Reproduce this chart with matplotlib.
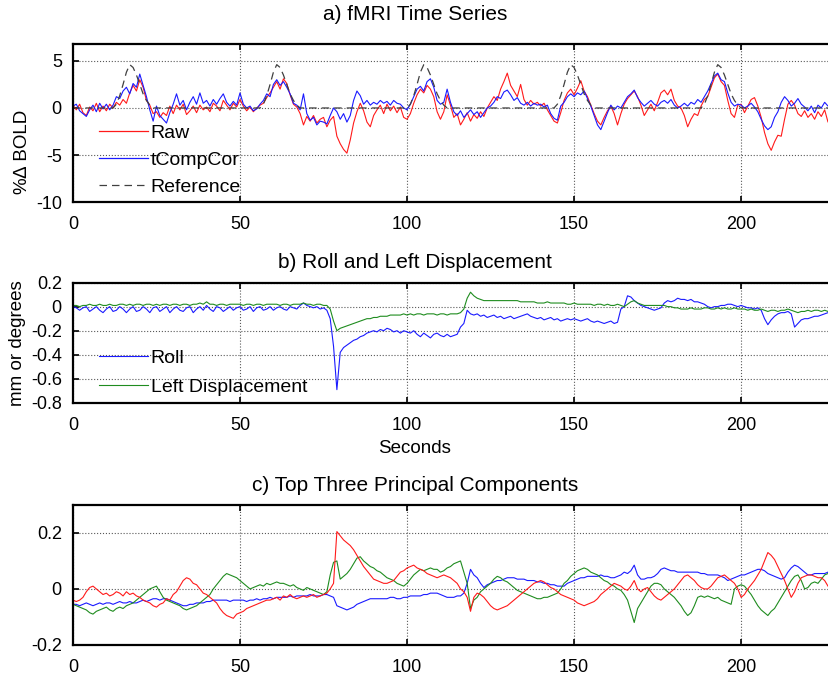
import numpy as np
import matplotlib
matplotlib.use("Agg")
import matplotlib.pyplot as plt

plt.rcParams['font.family'] = ['Liberation Sans', 'DejaVu Sans']

# sample times (s)
t_sec = np.arange(0, 228)

# a) fMRI time series (% change BOLD)
raw = [0.3, -0.2, 0.4, -0.5, -0.8, 0.1, -0.3, 0.5, -0.4, 0.2,
       -0.3, 0.4, 0.0, 0.6, 0.3, 0.9, 0.5, 1.6, 2.4, 1.8,
       3.0, 2.2, 0.8, 0.3, -0.6, -0.4, -1.0, -0.5, -0.8, 0.2,
       -0.6, 0.3, -0.2, 0.4, -0.7, -0.3, 0.2, -0.5, 0.3, -0.2,
       0.1, -0.4, 0.5, 0.2, -0.3, 0.8, 0.3, -0.2, 0.5, 0.1,
       0.9, 0.2, -0.3, 0.1, -0.4, 0.0, 0.3, 0.5, 1.1, 1.6,
       2.2, 2.8, 2.0, 3.1, 2.6, 1.4, 0.4, 0.1, -0.6, -1.8,
       -0.9, -1.4, -0.8, -1.6, -1.2, -1.0, -2.0, -1.3, -0.9, -3.0,
       -3.8, -4.4, -4.8, -3.4, -1.6, -0.4, 0.5, -0.3, -1.5, -2.0,
       -0.8, -0.2, 0.3, -0.6, 0.4, -0.3, 0.2, -0.5, 0.1, -1.0,
       -1.2, -0.6, 0.5, 1.4, 2.0, 1.6, 2.4, 2.0, 1.2, -0.4,
       -1.2, -0.4, 1.4, 0.3, -1.0, -0.6, -1.8, -1.2, -0.5, -1.4,
       -0.7, -1.1, -0.4, -0.9, 0.0, 0.6, 1.2, 0.8, 2.0, 2.8,
       3.7, 2.4, 1.8, 1.2, 2.5, 0.9, 0.3, 0.8, 0.4, 0.6,
       0.2, 0.5, -0.2, -0.8, -1.4, -1.6, -0.5, 0.8, 1.6, 2.0,
       1.4, 2.1, 2.9, 1.8, 1.2, 0.3, -0.6, -1.4, -1.8, -1.0,
       -0.3, 0.2, -0.6, -1.8, -0.6, 0.4, 1.0, 1.4, 1.8, 1.2,
       0.3, -0.8, -0.2, 0.4, -0.3, 0.6, 1.6, 1.9, 1.4, 2.0,
       0.8, 0.2, 0.0, -0.8, -2.0, -1.2, -0.6, -0.8, 0.2, 0.9,
       1.2, 2.2, 3.2, 3.6, 2.8, 2.4, 0.8, -0.6, -1.0, 0.3,
       0.4, -0.5, 0.2, 0.9, 1.1, 0.2, -1.0, -2.6, -3.8, -4.5,
       -3.6, -2.9, -3.0, -1.2, 0.4, 0.8, 0.3, -0.6, -0.9, -0.3,
       -1.0, -0.6, -1.2, -0.4, -0.9, -0.2, -1.5, -0.8]

tcompcor = [0.2, 0.4, -0.3, -0.6, -0.9, -0.2, 0.3, -0.4, 0.5, -0.1,
            0.4, -0.2, 0.3, 1.2, 1.0, 1.8, 2.2, 1.5, 2.6, 2.2,
            3.6, 2.4, 1.2, -0.2, -1.4, 0.2, -0.8, -1.2, -1.6, -0.5,
            0.4, 1.5, 0.3, 0.8, -0.2, 0.6, 1.2, 0.4, 1.6, 0.5,
            0.8, 0.2, 0.9, 0.4, 1.0, 1.5, 0.6, 0.2, 0.7, 0.3,
            1.6, 0.4, 0.0, 0.2, -0.3, -0.1, 0.4, 0.8, 1.5, 1.2,
            2.5, 3.0, 2.4, 2.8, 2.2, 1.5, 0.5, 0.3, -0.2, 1.5,
            -0.6, -1.3, -1.0, -1.8, -1.4, -1.5, -1.7, -0.8, 0.0, -0.4,
            -1.2, -0.6, -1.5, -0.8, 0.8, 1.8, 1.3, 0.4, 0.8, 0.3,
            0.6, 0.4, 0.8, 0.5, 0.7, 0.3, 0.8, 0.5, 0.4, 0.0,
            -0.2, 0.4, 1.2, 2.0, 2.3, 1.8, 2.8, 3.1, 2.2, 0.8,
            0.4, 0.6, 2.0, 0.6, -0.4, -0.8, -0.3, -1.0, -0.6, -0.2,
            -0.7, -0.4, -1.0, -0.5, 0.0, 0.2, 0.6, 1.2, 1.0, 1.7,
            1.9, 1.4, 0.8, 1.1, 0.5, 0.3, 0.6, 0.2, 0.5, 0.3,
            0.4, 0.1, 0.3, -0.6, -1.1, -1.3, 0.2, 0.6, 1.2, 1.5,
            1.2, 1.6, 1.4, 1.8, 1.0, 0.2, -0.8, -1.8, -2.3, -1.4,
            -0.5, 0.3, -0.2, 0.2, 0.0, 0.6, 1.2, 1.5, 1.9, 1.1,
            0.6, 0.2, 0.5, 0.8, 0.4, 0.2, 0.6, 0.8, 0.5, 0.9,
            0.3, 0.0, 0.2, 0.5, 0.2, 0.6, 0.4, 0.9, 0.6, 1.2,
            1.8, 2.6, 3.4, 3.7, 3.0, 2.8, 1.6, 0.6, 0.2, 0.4,
            0.3, 0.0, 0.2, 0.5, 0.1, -0.4, -1.2, -1.9, -2.3, -2.0,
            -1.0, -0.4, 0.6, 1.2, 0.8, 0.2, 0.5, 1.0, 0.4, 0.1,
            -0.3, 0.2, -0.5, 0.3, 0.0, 0.6, 0.2, 0.4]

ref_t = [0, 12, 13, 14, 15, 16, 17, 18, 19, 20, 21, 22, 23, 24,
         56, 57, 58, 59, 60, 61, 62, 63, 64, 65, 66, 67, 68,
         100, 101, 102, 103, 104, 105, 106, 107, 108, 109, 110, 111, 112,
         144, 145, 146, 147, 148, 149, 150, 151, 152, 153, 154, 155, 156,
         188, 189, 190, 191, 192, 193, 194, 195, 196, 197, 198, 199, 200, 227]
ref_v = [0, 0, 0.4, 1.3, 2.5, 3.8, 4.6, 4.3, 3.5, 2.5, 1.5, 0.8, 0.3, 0,
         0, 0.4, 1.3, 2.5, 3.8, 4.6, 4.3, 3.5, 2.5, 1.5, 0.8, 0.3, 0,
         0, 0.4, 1.3, 2.5, 3.8, 4.6, 4.3, 3.5, 2.5, 1.5, 0.8, 0.3, 0,
         0, 0.4, 1.3, 2.5, 3.8, 4.6, 4.3, 3.5, 2.5, 1.5, 0.8, 0.3, 0,
         0, 0.4, 1.3, 2.5, 3.8, 4.6, 4.3, 3.5, 2.5, 1.5, 0.8, 0.3, 0, 0]

# b) motion parameters
roll = [0.00, -0.01, -0.03, -0.01, 0.00, -0.04, -0.02, 0.00, -0.03, -0.05,
        -0.02, 0.00, -0.04, -0.03, 0.00, -0.02, -0.05, -0.02, 0.00, -0.04,
        -0.03, 0.00, -0.02, -0.05, -0.01, 0.00, -0.04, -0.02, 0.00, -0.05,
        -0.02, 0.00, -0.03, -0.04, -0.01, 0.00, -0.05, -0.02, 0.00, -0.03,
        0.01, -0.02, -0.04, 0.00, -0.01, -0.04, -0.02, 0.00, -0.03, -0.01,
        0.00, -0.03, -0.02, 0.00, -0.04, -0.01, 0.00, -0.03, -0.02, 0.00,
        -0.03, -0.01, 0.00, -0.02, -0.03, 0.00, -0.01, -0.02, 0.01, 0.03,
        0.01, 0.00, -0.01, 0.00, -0.02, -0.01, -0.03, -0.10, -0.33, -0.69,
        -0.38, -0.34, -0.32, -0.30, -0.28, -0.27, -0.25, -0.24, -0.22, -0.21,
        -0.20, -0.21, -0.19, -0.20, -0.18, -0.19, -0.21, -0.20, -0.22, -0.20,
        -0.21, -0.22, -0.20, -0.23, -0.25, -0.22, -0.24, -0.26, -0.23, -0.22,
        -0.24, -0.25, -0.23, -0.25, -0.24, -0.23, -0.17, -0.14, -0.03, -0.06,
        -0.07, -0.06, -0.08, -0.07, -0.09, -0.08, -0.07, -0.09, -0.08, -0.10,
        -0.09, -0.08, -0.10, -0.09, -0.08, -0.07, -0.06, -0.08, -0.09, -0.10,
        -0.09, -0.11, -0.10, -0.09, -0.11, -0.10, -0.12, -0.11, -0.10, -0.11,
        -0.10, -0.11, -0.12, -0.11, -0.10, -0.12, -0.13, -0.12, -0.13, -0.14,
        -0.13, -0.12, -0.14, -0.13, -0.02, 0.00, 0.09, 0.08, 0.05, 0.03,
        0.01, 0.00, -0.01, -0.02, -0.03, -0.02, -0.01, 0.03, 0.05, 0.04,
        0.05, 0.07, 0.06, 0.06, 0.05, 0.06, 0.04, 0.04, 0.03, 0.02,
        0.00, -0.01, 0.00, 0.00, 0.01, 0.01, 0.02, 0.02, 0.01, 0.00,
        0.01, 0.00, -0.01, -0.01, -0.02, -0.01, -0.03, -0.10, -0.15, -0.11,
        -0.08, -0.06, -0.05, -0.05, -0.04, -0.06, -0.17, -0.14, -0.11, -0.10,
        -0.10, -0.09, -0.08, -0.08, -0.07, -0.06, -0.05, -0.05]

left_disp = [0.01, 0.01, 0.00, 0.01, 0.01, 0.02, 0.01, 0.01, 0.02, 0.01,
             0.01, 0.02, 0.01, 0.01, 0.02, 0.02, 0.01, 0.02, 0.01, 0.02,
             0.02, 0.01, 0.02, 0.02, 0.01, 0.02, 0.01, 0.02, 0.02, 0.01,
             0.02, 0.02, 0.01, 0.02, 0.02, 0.01, 0.02, 0.02, 0.03, 0.02,
             0.04, 0.02, 0.02, 0.01, 0.02, 0.02, 0.01, 0.02, 0.02, 0.02,
             0.02, 0.01, 0.02, 0.02, 0.01, 0.02, 0.02, 0.01, 0.02, 0.02,
             0.02, 0.02, 0.01, 0.02, 0.02, 0.01, 0.02, 0.02, 0.02, 0.03,
             0.02, 0.02, 0.01, 0.02, 0.02, 0.01, 0.01, -0.02, -0.12, -0.20,
             -0.18, -0.17, -0.16, -0.15, -0.14, -0.13, -0.12, -0.11, -0.10, -0.10,
             -0.09, -0.09, -0.08, -0.08, -0.08, -0.07, -0.07, -0.07, -0.07, -0.06,
             -0.07, -0.06, -0.07, -0.06, -0.06, -0.07, -0.06, -0.06, -0.06, -0.07,
             -0.06, -0.06, -0.07, -0.06, -0.06, -0.06, -0.05, -0.02, 0.07, 0.12,
             0.09, 0.07, 0.06, 0.05, 0.05, 0.05, 0.05, 0.05, 0.05, 0.05,
             0.05, 0.05, 0.05, 0.05, 0.04, 0.04, 0.04, 0.04, 0.04, 0.03,
             0.03, 0.03, 0.04, 0.03, 0.03, 0.03, 0.03, 0.03, 0.02, 0.02,
             0.03, 0.02, 0.02, 0.02, 0.02, 0.02, 0.01, 0.02, 0.02, 0.01,
             0.02, 0.01, 0.01, 0.02, 0.01, 0.00, 0.02, 0.04, 0.05, 0.03,
             0.02, 0.01, 0.01, 0.01, 0.01, 0.01, 0.01, 0.01, 0.00, 0.00,
             -0.01, -0.01, -0.02, -0.02, -0.02, -0.01, -0.02, -0.02, -0.02, -0.01,
             -0.01, -0.02, -0.02, -0.01, -0.02, -0.01, -0.02, -0.02, -0.01, -0.02,
             -0.02, -0.02, -0.03, -0.02, -0.03, -0.03, -0.02, -0.03, -0.04, -0.03,
             -0.03, -0.04, -0.03, -0.03, -0.02, -0.03, -0.04, -0.05, -0.04, -0.04,
             -0.03, -0.04, -0.03, -0.03, -0.04, -0.03, -0.04, -0.03]

# c) top three principal components
pc1 = [-0.04, -0.045, -0.04, -0.03, -0.01, 0.005, 0.01, 0.0, -0.01, -0.02,
       -0.015, -0.025, -0.02, -0.01, -0.015, -0.025, -0.01, -0.02, -0.015, -0.025,
       -0.03, -0.04, -0.045, -0.05, -0.06, -0.065, -0.055, -0.05, -0.035, -0.04,
       -0.02, -0.01, 0.01, 0.03, 0.04, 0.035, 0.02, 0.015, 0.0, -0.015,
       -0.02, -0.03, -0.04, -0.05, -0.07, -0.085, -0.095, -0.1, -0.105, -0.09,
       -0.085, -0.08, -0.07, -0.065, -0.06, -0.055, -0.05, -0.045, -0.04, -0.04,
       -0.035, -0.03, -0.04, -0.025, -0.03, -0.02, -0.03, -0.035, -0.03, -0.025,
       -0.03, -0.025, -0.02, -0.03, -0.025, -0.02, -0.015, 0.0, 0.02, 0.205,
       0.19, 0.175, 0.165, 0.155, 0.14, 0.12, 0.1, 0.08, 0.065, 0.05,
       0.035, 0.03, 0.025, 0.02, 0.02, 0.025, 0.03, 0.045, 0.06, 0.065,
       0.075, 0.08, 0.085, 0.075, 0.07, 0.065, 0.055, 0.05, 0.045, 0.04,
       0.045, 0.05, 0.045, 0.04, 0.03, 0.02, 0.0, -0.01, -0.03, -0.08,
       -0.03, -0.015, -0.02, -0.03, -0.045, -0.06, -0.07, -0.075, -0.07, -0.065,
       -0.06, -0.05, -0.04, -0.03, -0.02, -0.01, 0.0, 0.01, 0.02, 0.025,
       0.03, 0.025, 0.015, 0.005, 0.0, -0.01, -0.02, -0.025, -0.03, -0.035,
       -0.04, -0.05, -0.055, -0.06, -0.055, -0.05, -0.045, -0.035, -0.02, -0.01,
       0.0, 0.01, 0.02, 0.015, 0.01, 0.0, -0.005, 0.01, 0.03, 0.0,
       -0.01, 0.0, 0.005, -0.01, -0.025, -0.035, -0.04, -0.03, -0.02, -0.01,
       0.0, 0.015, 0.03, 0.045, 0.05, 0.04, 0.03, 0.015, 0.005, 0.0,
       0.0, 0.01, 0.025, 0.04, 0.045, 0.05, 0.04, 0.03, 0.02, 0.0,
       -0.03, -0.02, 0.0, 0.015, 0.03, 0.05, 0.07, 0.1, 0.13, 0.12,
       0.105, 0.08, 0.055, 0.03, 0.0, -0.03, -0.01, 0.02, 0.04, 0.045,
       0.05, 0.05, 0.045, 0.04, 0.04, 0.03, 0.01, -0.005]

pc2 = [-0.055, -0.06, -0.065, -0.07, -0.075, -0.085, -0.09, -0.08, -0.075, -0.07,
       -0.065, -0.075, -0.08, -0.07, -0.065, -0.07, -0.06, -0.055, -0.05, -0.04,
       -0.03, -0.02, -0.01, 0.0, 0.005, 0.01, -0.01, -0.03, -0.04, -0.045,
       -0.05, -0.055, -0.06, -0.07, -0.075, -0.07, -0.065, -0.06, -0.05, -0.04,
       -0.03, -0.02, 0.0, 0.015, 0.03, 0.045, 0.055, 0.05, 0.045, 0.04,
       0.03, 0.02, 0.01, 0.0, 0.005, 0.01, 0.015, 0.01, 0.02, 0.015,
       0.02, 0.025, 0.02, 0.02, 0.015, 0.01, 0.015, 0.005, 0.0, -0.005,
       0.005, 0.0, -0.005, -0.01, -0.015, -0.02, -0.01, 0.05, 0.095, 0.1,
       0.035, 0.045, 0.055, 0.07, 0.09, 0.11, 0.115, 0.1, 0.09, 0.08,
       0.075, 0.065, 0.06, 0.05, 0.04, 0.035, 0.03, 0.02, 0.015, 0.01,
       0.02, 0.035, 0.05, 0.06, 0.07, 0.065, 0.07, 0.075, 0.07, 0.07,
       0.06, 0.065, 0.075, 0.08, 0.09, 0.095, 0.1, 0.06, 0.02, -0.07,
       -0.04, -0.03, -0.01, 0.0, 0.01, 0.02, 0.035, 0.045, 0.04, 0.03,
       0.025, 0.015, 0.005, -0.005, -0.01, -0.015, -0.02, -0.025, -0.03, -0.035,
       -0.035, -0.03, -0.03, -0.025, -0.02, -0.015, 0.0, 0.02, 0.03, 0.045,
       0.055, 0.065, 0.07, 0.075, 0.07, 0.06, 0.055, 0.05, 0.04, 0.03,
       0.025, 0.015, 0.01, 0.0, -0.005, -0.02, -0.04, -0.08, -0.12, -0.07,
       -0.05, -0.03, -0.01, 0.01, 0.02, 0.02, 0.015, 0.0, -0.01, -0.02,
       -0.03, -0.045, -0.06, -0.08, -0.095, -0.085, -0.06, -0.03, -0.025, -0.03,
       -0.025, -0.03, -0.035, -0.03, -0.04, -0.045, -0.05, -0.055, 0.0, 0.01,
       0.015, 0.01, -0.005, -0.02, -0.04, -0.06, -0.075, -0.085, -0.095, -0.08,
       -0.07, -0.05, -0.03, -0.01, 0.01, 0.03, 0.045, 0.05, 0.03, 0.0,
       0.005, 0.02, 0.025, 0.02, 0.035, 0.05, 0.055, 0.05]

pc3 = [-0.055, -0.055, -0.06, -0.055, -0.05, -0.055, -0.06, -0.055, -0.05, -0.055,
       -0.05, -0.05, -0.055, -0.05, -0.045, -0.05, -0.05, -0.045, -0.05, -0.05,
       -0.045, -0.04, -0.045, -0.04, -0.035, -0.035, -0.04, -0.035, -0.035, -0.04,
       -0.045, -0.05, -0.055, -0.06, -0.06, -0.055, -0.055, -0.05, -0.05, -0.05,
       -0.045, -0.045, -0.04, -0.04, -0.04, -0.04, -0.04, -0.045, -0.04, -0.04,
       -0.04, -0.04, -0.045, -0.04, -0.04, -0.035, -0.04, -0.035, -0.035, -0.03,
       -0.035, -0.03, -0.03, -0.03, -0.03, -0.025, -0.03, -0.025, -0.025, -0.025,
       -0.025, -0.02, -0.025, -0.025, -0.025, -0.02, -0.02, -0.025, -0.03, -0.06,
       -0.065, -0.07, -0.075, -0.07, -0.065, -0.055, -0.05, -0.045, -0.04, -0.035,
       -0.035, -0.035, -0.035, -0.035, -0.035, -0.03, -0.03, -0.035, -0.035, -0.03,
       -0.03, -0.025, -0.025, -0.025, -0.025, -0.02, -0.02, -0.015, -0.015, -0.015,
       -0.02, -0.025, -0.03, -0.03, -0.03, -0.025, -0.025, -0.015, 0.02, 0.07,
       0.05, 0.04, 0.02, 0.005, 0.015, 0.02, 0.025, 0.03, 0.03, 0.035,
       0.04, 0.04, 0.04, 0.035, 0.035, 0.035, 0.03, 0.03, 0.03, 0.025,
       0.025, 0.02, 0.02, 0.015, 0.015, 0.01, 0.01, 0.01, 0.02, 0.025,
       0.03, 0.035, 0.04, 0.04, 0.045, 0.045, 0.045, 0.045, 0.05, 0.045,
       0.045, 0.04, 0.04, 0.045, 0.05, 0.06, 0.055, 0.065, 0.085, 0.05,
       0.035, 0.035, 0.04, 0.04, 0.045, 0.055, 0.07, 0.075, 0.07, 0.065,
       0.065, 0.06, 0.06, 0.06, 0.06, 0.06, 0.06, 0.06, 0.055, 0.055,
       0.05, 0.05, 0.05, 0.05, 0.045, 0.04, 0.03, 0.035, 0.04, 0.045,
       0.05, 0.05, 0.055, 0.06, 0.065, 0.07, 0.07, 0.065, 0.055, 0.05,
       0.045, 0.04, 0.035, 0.04, 0.06, 0.075, 0.085, 0.08, 0.07, 0.06,
       0.05, 0.05, 0.055, 0.055, 0.055, 0.055, 0.06, 0.06]

for s in (raw, tcompcor, roll, left_disp, pc1, pc2, pc3):
    assert len(s) == len(t_sec), len(s)

RED = '#ff1a1a'; BLUE = '#1a1aff'; GREEN = '#1f8c1f'
XMAX = 226.3
FS_TICK = 13
FS_LEG = 14
FS_LAB = 13.5
FS_TITLE = 15

fig = plt.figure(figsize=(8.29, 6.76), dpi=100)
ax_a = fig.add_axes([0.088, 0.701, 0.912, 0.234])
ax_b = fig.add_axes([0.088, 0.404, 0.912, 0.178])
ax_c = fig.add_axes([0.088, 0.046, 0.912, 0.207])

def style(ax, yticks, ylim):
    ax.set_xlim(0, XMAX); ax.set_ylim(*ylim)
    ax.set_xticks([0, 50, 100, 150, 200]); ax.set_yticks(yticks)
    ax.grid(True, linestyle=':', color='0.35', linewidth=0.8)
    ax.tick_params(direction='in', top=True, labelsize=FS_TICK, length=4, width=1.2)
    ax.tick_params(axis='x', pad=10)
    ax.tick_params(axis='y', pad=8)
    for side in ('left', 'top', 'bottom'):
        ax.spines[side].set_linewidth(1.6)
    ax.spines['right'].set_visible(False)

# titles, centred where the reference has them
fig.text(0.5006, 0.978, 'a) fMRI Time Series', fontsize=FS_TITLE, ha='center', va='center')
fig.text(0.5006, 0.6124, 'b) Roll and Left Displacement', fontsize=FS_TITLE, ha='center', va='center')
fig.text(0.5006, 0.2825, 'c) Top Three Principal Components', fontsize=FS_TITLE, ha='center', va='center')

# a
ax_a.plot(t_sec, raw, color=RED, lw=0.8, label='Raw')
ax_a.plot(t_sec, tcompcor, color=BLUE, lw=0.8, label='tCompCor')
ax_a.plot(ref_t, ref_v, color='0.25', lw=0.9, ls=(0, (6, 4)), label='Reference')
style(ax_a, [-10, -5, 0, 5], (-10, 6.8))
ax_a.set_yticklabels(['-10', '-5', '0', '5'])
ax_a.set_ylabel('%\u2206 BOLD', fontsize=FS_LAB)
ax_a.yaxis.set_label_coords(-0.056, 0.32)
leg = ax_a.legend(loc='lower left', bbox_to_anchor=(0.022, -0.02), frameon=False, borderpad=0,
                  fontsize=FS_LEG, handlelength=2.5, handletextpad=0.15, labelspacing=0.48)
for h in leg.get_lines():
    h.set_linewidth(0.9)

# b
ax_b.plot(t_sec, roll, color=BLUE, lw=0.8, label='Roll')
ax_b.plot(t_sec, left_disp, color=GREEN, lw=0.8, label='Left Displacement')
style(ax_b, [-0.8, -0.6, -0.4, -0.2, 0, 0.2], (-0.8, 0.2))
ax_b.set_yticklabels(['-0.8', '-0.6', '-0.4', '-0.2', '0', '0.2'])
ax_b.set_ylabel('mm or degrees', fontsize=FS_LAB)
ax_b.yaxis.set_label_coords(-0.062, 0.5)
ax_b.set_xlabel('Seconds', fontsize=FS_LAB)
ax_b.xaxis.set_label_coords(0.452, -0.31)
ax_b.legend(loc='lower left', bbox_to_anchor=(0.022, -0.025), frameon=False, borderpad=0,
            fontsize=FS_LEG, handlelength=2.5, handletextpad=0.15, labelspacing=0.6)

# c
ax_c.plot(t_sec, pc3, color=BLUE, lw=0.8)
ax_c.plot(t_sec, pc2, color=GREEN, lw=0.8)
ax_c.plot(t_sec, pc1, color=RED, lw=0.8)
style(ax_c, [-0.2, 0, 0.2], (-0.2, 0.3))
ax_c.set_yticklabels(['-0.2', '0', '0.2'])

plt.savefig('out.png', dpi=100)
plt.close()
